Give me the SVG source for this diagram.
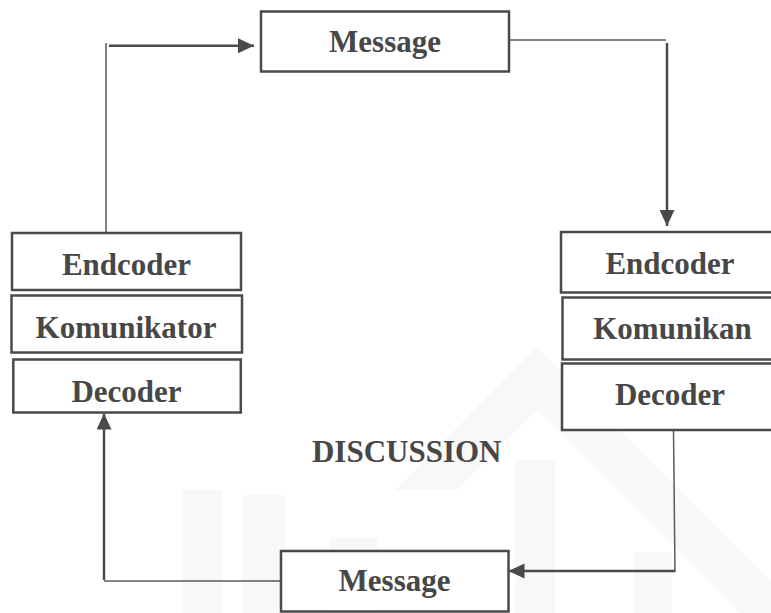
<svg xmlns="http://www.w3.org/2000/svg" width="771" height="613" viewBox="0 0 771 613">
  <style>
    .box { fill: #ffffff; stroke: #4a4a4a; stroke-width: 2.5; }
    .label { fill: #474747; text-anchor: middle; }
    .thin { fill: none; stroke: #5a5a5a; stroke-width: 1.5; }
    .thick { fill: none; stroke: #4a4a4a; stroke-width: 2.5; }
    .mark { fill: #f8f8f8; }
  </style>
  <defs>
    <marker id="arrow" markerUnits="userSpaceOnUse" markerWidth="17" markerHeight="16" refX="16" refY="7.5" orient="auto">
      <path d="M0,0 L16,7.5 L0,15 z" fill="#4a4a4a"/>
    </marker>
  </defs>

  <rect width="771" height="613" fill="#ffffff"/>

  <!-- faint background emblem -->
  <g id="watermark">
    <polygon class="mark" points="537,347 395,490 457,490 537,410"/>
    <polygon class="mark" points="537,347 771,581 771,613 740,613 537,410"/>
    <rect class="mark" x="182" y="490" width="40" height="123"/>
    <rect class="mark" x="243" y="495" width="42" height="118"/>
    <rect class="mark" x="330" y="537" width="47" height="76"/>
    <rect class="mark" x="515" y="460" width="40" height="153"/>
    <rect class="mark" x="633" y="552" width="39" height="61"/>
  </g>

  <g id="connectors">
    <!-- sender to message -->
    <path class="thin" d="M106,232 V43"/>
    <path class="thick" d="M109,45.7 H254" marker-end="url(#arrow)"/>
    <!-- message to receiver -->
    <path class="thin" d="M509,40 H666"/>
    <path class="thick" d="M667,43 V226" marker-end="url(#arrow)"/>
    <!-- receiver to reply -->
    <path class="thin" d="M673.5,430 L675,572"/>
    <path class="thick" d="M675,571 H508.5" marker-end="url(#arrow)"/>
    <!-- reply back to sender -->
    <path class="thin" d="M281,581 H104"/>
    <path class="thick" d="M104,580 V413.5" marker-end="url(#arrow)"/>
  </g>

  <g font-family="Liberation Serif, Times New Roman, Times, serif" font-weight="700" font-size="31">
    <g id="message-top">
      <rect class="box" x="261" y="11.5" width="248" height="60"/>
      <text class="label" x="385" y="52">Message</text>
    </g>

    <g id="sender-encoder">
      <rect class="box" x="12" y="233" width="229" height="57"/>
      <text class="label" x="126.5" y="274.5">Endcoder</text>
    </g>
    <g id="sender">
      <rect class="box" x="11.5" y="295.5" width="230.5" height="57"/>
      <text class="label" x="126" y="337.5">Komunikator</text>
    </g>
    <g id="sender-decoder">
      <rect class="box" x="13.3" y="359.5" width="227.5" height="53"/>
      <text class="label" x="126.5" y="401.5">Decoder</text>
    </g>

    <g id="receiver-encoder">
      <rect class="box" x="561" y="232" width="220" height="60.5"/>
      <text class="label" x="670" y="273.5">Endcoder</text>
    </g>
    <g id="receiver">
      <rect class="box" x="562.5" y="297.5" width="220" height="62"/>
      <text class="label" x="672.5" y="338.5">Komunikan</text>
    </g>
    <g id="receiver-decoder">
      <rect class="box" x="562" y="363.5" width="220" height="66.5"/>
      <text class="label" x="670" y="405">Decoder</text>
    </g>

    <g id="discussion">
      <text class="label" x="406.7" y="461.7">DISCUSSION</text>
    </g>

    <g id="message-bottom">
      <rect class="box" x="281" y="551" width="227.5" height="60.5"/>
      <text class="label" x="394.5" y="590.7">Message</text>
    </g>
  </g>
</svg>
